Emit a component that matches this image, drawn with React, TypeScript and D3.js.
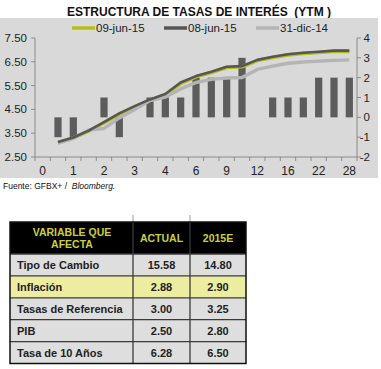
import React from 'react'
import * as d3 from 'd3'

// tenor categories (only every other one is labelled on the axis)
const xLabels = ['0', '', '1', '', '2', '', '3', '', '4', '', '6', '', '9', '', '12', '', '16', '', '22', '', '28']

// change in bp (right axis)
const change = [0, -1, -1, 0, 1, -1, 0, 1, 1, 1, 2, 2, 2, 3, 0, 1, 1, 1, 2, 2, 2]

// YTM curves (left axis)
const jun09 = [null, 3.11, 3.3, 3.59, 3.94, 4.3, 4.61, 4.89, 5.12, 5.59, 5.87, 6.05, 6.26, 6.29, 6.55, 6.68, 6.79, 6.85, 6.89, 6.94, 6.94]
const jun08 = [null, 3.13, 3.32, 3.61, 3.97, 4.33, 4.64, 4.92, 5.15, 5.63, 5.9, 6.08, 6.29, 6.32, 6.58, 6.71, 6.82, 6.88, 6.92, 6.97, 6.97]
const dic14 = [null, 3.07, 3.28, 3.63, 3.7, 4.14, 4.5, 4.87, 5.02, 5.36, 5.63, 5.76, 5.82, 5.84, 6.18, 6.32, 6.44, 6.49, 6.53, 6.56, 6.58]

const leftTicks = [2.5, 3.5, 4.5, 5.5, 6.5, 7.5]
const rightTicks = [-2, -1, 0, 1, 2, 3, 4]

const legendNames = ['09-jun-15', '08-jun-15', '31-dic-14']

// table
const variables = ['Tipo de Cambio', 'Inflación', 'Tasas de Referencia', 'PIB', 'Tasa de 10 Años']
const actual = ['15.58', '2.88', '3.00', '2.50', '6.28']
const estimate = ['14.80', '2.90', '3.25', '2.80', '6.50']

const FONT = "'Liberation Sans', Arial, sans-serif"

export default function App() {
  const x = d3.scaleBand<number>().domain(d3.range(xLabels.length)).range([35, 357]).padding(0)
  const yL = d3.scaleLinear().domain([2.5, 7.5]).range([157, 38])
  const yR = d3.scaleLinear().domain([-2, 4]).range([157, 38])
  const bw = x.bandwidth()
  const cx = (i: number) => (x(i) as number) + bw / 2

  const line = d3
    .line<number | null>()
    .defined((d) => d != null)
    .x((_, i) => cx(i))
    .y((d) => yL(d as number))

  const series = [
    { name: legendNames[0], data: jun09, color: '#b6bf12', w: 3.6 },
    { name: legendNames[2], data: dic14, color: '#b4b4b4', w: 3.4 },
    { name: legendNames[1], data: jun08, color: '#565656', w: 2.6 },
  ]
  const legend = [
    { name: legendNames[0], color: '#b6bf12', x: 72 },
    { name: legendNames[1], color: '#565656', x: 164 },
    { name: legendNames[2], color: '#b4b4b4', x: 256 },
  ]

  const colX = [10, 133, 190, 246]
  const headTop = 222
  const headBot = 254
  const rowH = (363.5 - headBot) / variables.length

  return (
    <svg width={381} height={369} style={{ position: 'absolute', left: 0, top: 0 }} fontFamily={FONT}>
      <rect width={381} height={369} fill="#fff" />
      <text x={199} y={16} textAnchor="middle" fontSize={12} fontWeight="bold" fill="#111" style={{ whiteSpace: 'pre' }}>
        {'ESTRUCTURA DE TASAS DE INTERÉS  (YTM )'}
      </text>
      <rect x={0} y={18} width={378} height={160} fill="#d9d9d9" />

      {/* legend */}
      {legend.map((l) => (
        <g key={l.name}>
          <line x1={l.x} x2={l.x + 23} y1={28} y2={28} stroke={l.color} strokeWidth={3.5} />
          <text x={l.x + 24} y={32} fontSize={11.5} fill="#222">
            {l.name}
          </text>
        </g>
      ))}

      {/* bars */}
      {change.map((v, i) =>
        v === 0 ? null : (
          <rect
            key={i}
            x={cx(i) - 3.6}
            width={7.2}
            y={Math.min(yR(v), yR(0))}
            height={Math.abs(yR(v) - yR(0))}
            fill="#5c5c5c"
          />
        )
      )}

      {/* lines */}
      {series.map((s) => (
        <path key={s.name} d={line(s.data) || ''} fill="none" stroke={s.color} strokeWidth={s.w} strokeLinejoin="round" />
      ))}

      {/* axes */}
      <g stroke="#8a8a8a" strokeWidth={1}>
        <line x1={35} x2={35} y1={38} y2={157} />
        <line x1={357} x2={357} y1={38} y2={157} />
        <line x1={35} x2={357} y1={157} y2={157} />
        {leftTicks.map((t) => (
          <line key={'l' + t} x1={31} x2={35} y1={yL(t)} y2={yL(t)} />
        ))}
        {rightTicks.map((t) => (
          <line key={'r' + t} x1={357} x2={361} y1={yR(t)} y2={yR(t)} />
        ))}
        {d3.range(xLabels.length + 1).map((i) => (
          <line key={'x' + i} x1={35 + i * bw} x2={35 + i * bw} y1={157} y2={161} />
        ))}
      </g>
      <g fontSize={11.5} fill="#222">
        {leftTicks.map((t) => (
          <text key={'lt' + t} x={27} y={yL(t)} dy="0.35em" textAnchor="end">
            {t.toFixed(2)}
          </text>
        ))}
        {rightTicks.map((t) => (
          <text key={'rt' + t} x={370} y={yR(t)} dy="0.35em" textAnchor="end">
            {t}
          </text>
        ))}
        {xLabels.map((l, i) =>
          l ? (
            <text key={'xt' + i} x={cx(i)} y={175} textAnchor="middle" fontSize={12}>
              {l}
            </text>
          ) : null
        )}
      </g>

      <text x={3} y={189} fontSize={8.5} fill="#111" style={{ whiteSpace: 'pre' }}>
        {'Fuente: GFBX+ /  '}
        <tspan fontStyle="italic">Bloomberg.</tspan>
      </text>

      {/* table */}
      <rect x={colX[0]} y={headTop} width={colX[3] - colX[0]} height={headBot - headTop} fill="#000" />
      <g fill="#c9d13c" fontSize={10.5} fontWeight="bold" textAnchor="middle">
        <text x={72} y={235.5}>VARIABLE QUE</text>
        <text x={72} y={247.5}>AFECTA</text>
        <text x={(colX[1] + colX[2]) / 2} y={242}>ACTUAL</text>
        <text x={(colX[2] + colX[3]) / 2} y={242}>2015E</text>
      </g>
      {variables.map((v, i) => {
        const y0 = headBot + i * rowH
        return (
          <g key={v}>
            <rect x={colX[0]} y={y0} width={colX[3] - colX[0]} height={rowH} fill={i === 1 ? '#ededa2' : '#dedede'} />
            <g fontSize={11} fontWeight="bold" fill="#222">
              <text x={17} y={y0 + rowH / 2} dy="0.36em">
                {v}
              </text>
              <text x={(colX[1] + colX[2]) / 2} y={y0 + rowH / 2} dy="0.36em" textAnchor="middle">
                {actual[i]}
              </text>
              <text x={(colX[2] + colX[3]) / 2} y={y0 + rowH / 2} dy="0.36em" textAnchor="middle">
                {estimate[i]}
              </text>
            </g>
          </g>
        )
      })}
      <g stroke="#3a3a3a" strokeWidth={1.3}>
        {variables.map((_, i) => (
          <line key={i} x1={colX[0]} x2={colX[3]} y1={headBot + i * rowH} y2={headBot + i * rowH} />
        ))}
        <line x1={colX[1]} x2={colX[1]} y1={headTop} y2={363.5} />
        <line x1={colX[2]} x2={colX[2]} y1={headTop} y2={363.5} />
      </g>
      <g stroke="#9a9a9a" strokeWidth={1}>
        <line x1={colX[1]} x2={colX[1]} y1={215} y2={headTop} />
        <line x1={colX[2]} x2={colX[2]} y1={215} y2={headTop} />
      </g>
      <rect
        x={colX[0]}
        y={headTop}
        width={colX[3] - colX[0]}
        height={363.5 - headTop}
        fill="none"
        stroke="#111"
        strokeWidth={1.5}
      />
    </svg>
  )
}
